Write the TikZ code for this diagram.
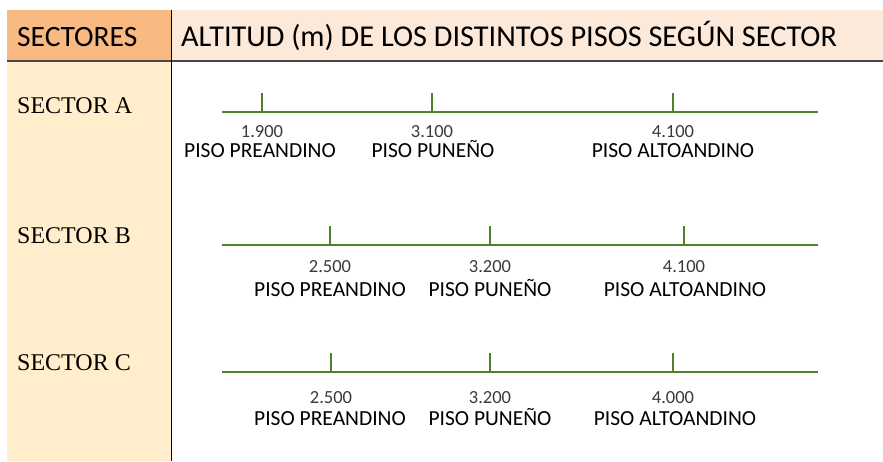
\documentclass[tikz,border=0pt]{standalone}
\usepackage{fontspec}
\setmainfont{Carlito}
\newfontfamily\serifA{Liberation Serif}
\definecolor{hdrorange}{HTML}{F8BA82}
\definecolor{hdrpeach}{HTML}{FDE9D9}
\definecolor{bodycream}{HTML}{FFEDCC}
\definecolor{axisgreen}{HTML}{4C822A}
\definecolor{rulegray}{HTML}{4D4545}
\definecolor{numgray}{HTML}{3A3A3A}
\begin{document}
\begin{tikzpicture}[x=1pt,y=-1pt,
  hdr/.style={anchor=base west,inner sep=0pt,font=\fontsize{29.5}{31}\selectfont},
  sect/.style={anchor=base west,inner sep=0pt,font=\serifA\fontsize{24}{26}\selectfont},
  num/.style={anchor=base,inner sep=0pt,text=numgray,font=\fontsize{18.5}{20}\selectfont},
  piso/.style={anchor=base,inner sep=0pt,font=\fontsize{21.5}{23}\selectfont},
  axis/.style={draw=axisgreen,line width=2.8pt},
  tick/.style={draw=axisgreen,line width=1.2pt}]
\useasboundingbox (0,0) rectangle (883,461);
% backgrounds
\fill[hdrorange] (7,10) rectangle (171,61);
\fill[hdrpeach] (171,10) rectangle (883,61);
\fill[bodycream] (7,61) rectangle (171,461);
\draw[rulegray,line width=2.4pt] (7,61) -- (883,61);
\draw[black,line width=1.3pt] (171.5,10) -- (171.5,461);
% headers
\node[hdr] (hs) at (17,46) {SECTORES};
\node[hdr,font=\fontsize{30.3}{32}\selectfont] (ht) at (181,46) {ALTITUD (m) DE LOS DISTINTOS PISOS SEGÚN SECTOR};
% sector labels
\node[sect] (sa) at (17,113) {SECTOR A};
\node[sect] (sb) at (17,243) {SECTOR B};
\node[sect] (sc) at (17,370) {SECTOR C};
% Sector A
\coordinate (aL) at (222,112); \coordinate (aR) at (818,112);
\draw[axis] (aL) -- (aR);
\coordinate (a1) at (262,93); \coordinate (a1b) at (262,112);
\coordinate (a2) at (432,93); \coordinate (a2b) at (432,112);
\coordinate (a3) at (673,93); \coordinate (a3b) at (673,112);
\draw[tick] (a1) -- (a1b); \draw[tick] (a2) -- (a2b); \draw[tick] (a3) -- (a3b);
\node[num] (an1) at (262,137) {1.900};
\node[num] (an2) at (432,137) {3.100};
\node[num] (an3) at (673,137) {4.100};
\node[piso] (ap1) at (260,157) {PISO PREANDINO};
\node[piso] (ap2) at (433,157) {PISO PUNEÑO};
\node[piso] (ap3) at (673,157) {PISO ALTOANDINO};
% Sector B
\coordinate (bL) at (222,245); \coordinate (bR) at (818,245);
\draw[axis] (bL) -- (bR);
\coordinate (b1) at (330,226); \coordinate (b1b) at (330,245);
\coordinate (b2) at (490,226); \coordinate (b2b) at (490,245);
\coordinate (b3) at (684,226); \coordinate (b3b) at (684,245);
\draw[tick] (b1) -- (b1b); \draw[tick] (b2) -- (b2b); \draw[tick] (b3) -- (b3b);
\node[num] (bn1) at (330,272) {2.500};
\node[num] (bn2) at (490,272) {3.200};
\node[num] (bn3) at (684,272) {4.100};
\node[piso] (bp1) at (330,296) {PISO PREANDINO};
\node[piso] (bp2) at (490,296) {PISO PUNEÑO};
\node[piso] (bp3) at (685,296) {PISO ALTOANDINO};
% Sector C
\coordinate (cL) at (222,372); \coordinate (cR) at (818,372);
\draw[axis] (cL) -- (cR);
\coordinate (c1) at (331,353); \coordinate (c1b) at (331,372);
\coordinate (c2) at (490,353); \coordinate (c2b) at (490,372);
\coordinate (c3) at (673,353); \coordinate (c3b) at (673,372);
\draw[tick] (c1) -- (c1b); \draw[tick] (c2) -- (c2b); \draw[tick] (c3) -- (c3b);
\node[num] (cn1) at (331,403) {2.500};
\node[num] (cn2) at (490,403) {3.200};
\node[num] (cn3) at (673,403) {4.000};
\node[piso] (cp1) at (330,425) {PISO PREANDINO};
\node[piso] (cp2) at (490,425) {PISO PUNEÑO};
\node[piso] (cp3) at (675,425) {PISO ALTOANDINO};
\end{tikzpicture}
\end{document}
